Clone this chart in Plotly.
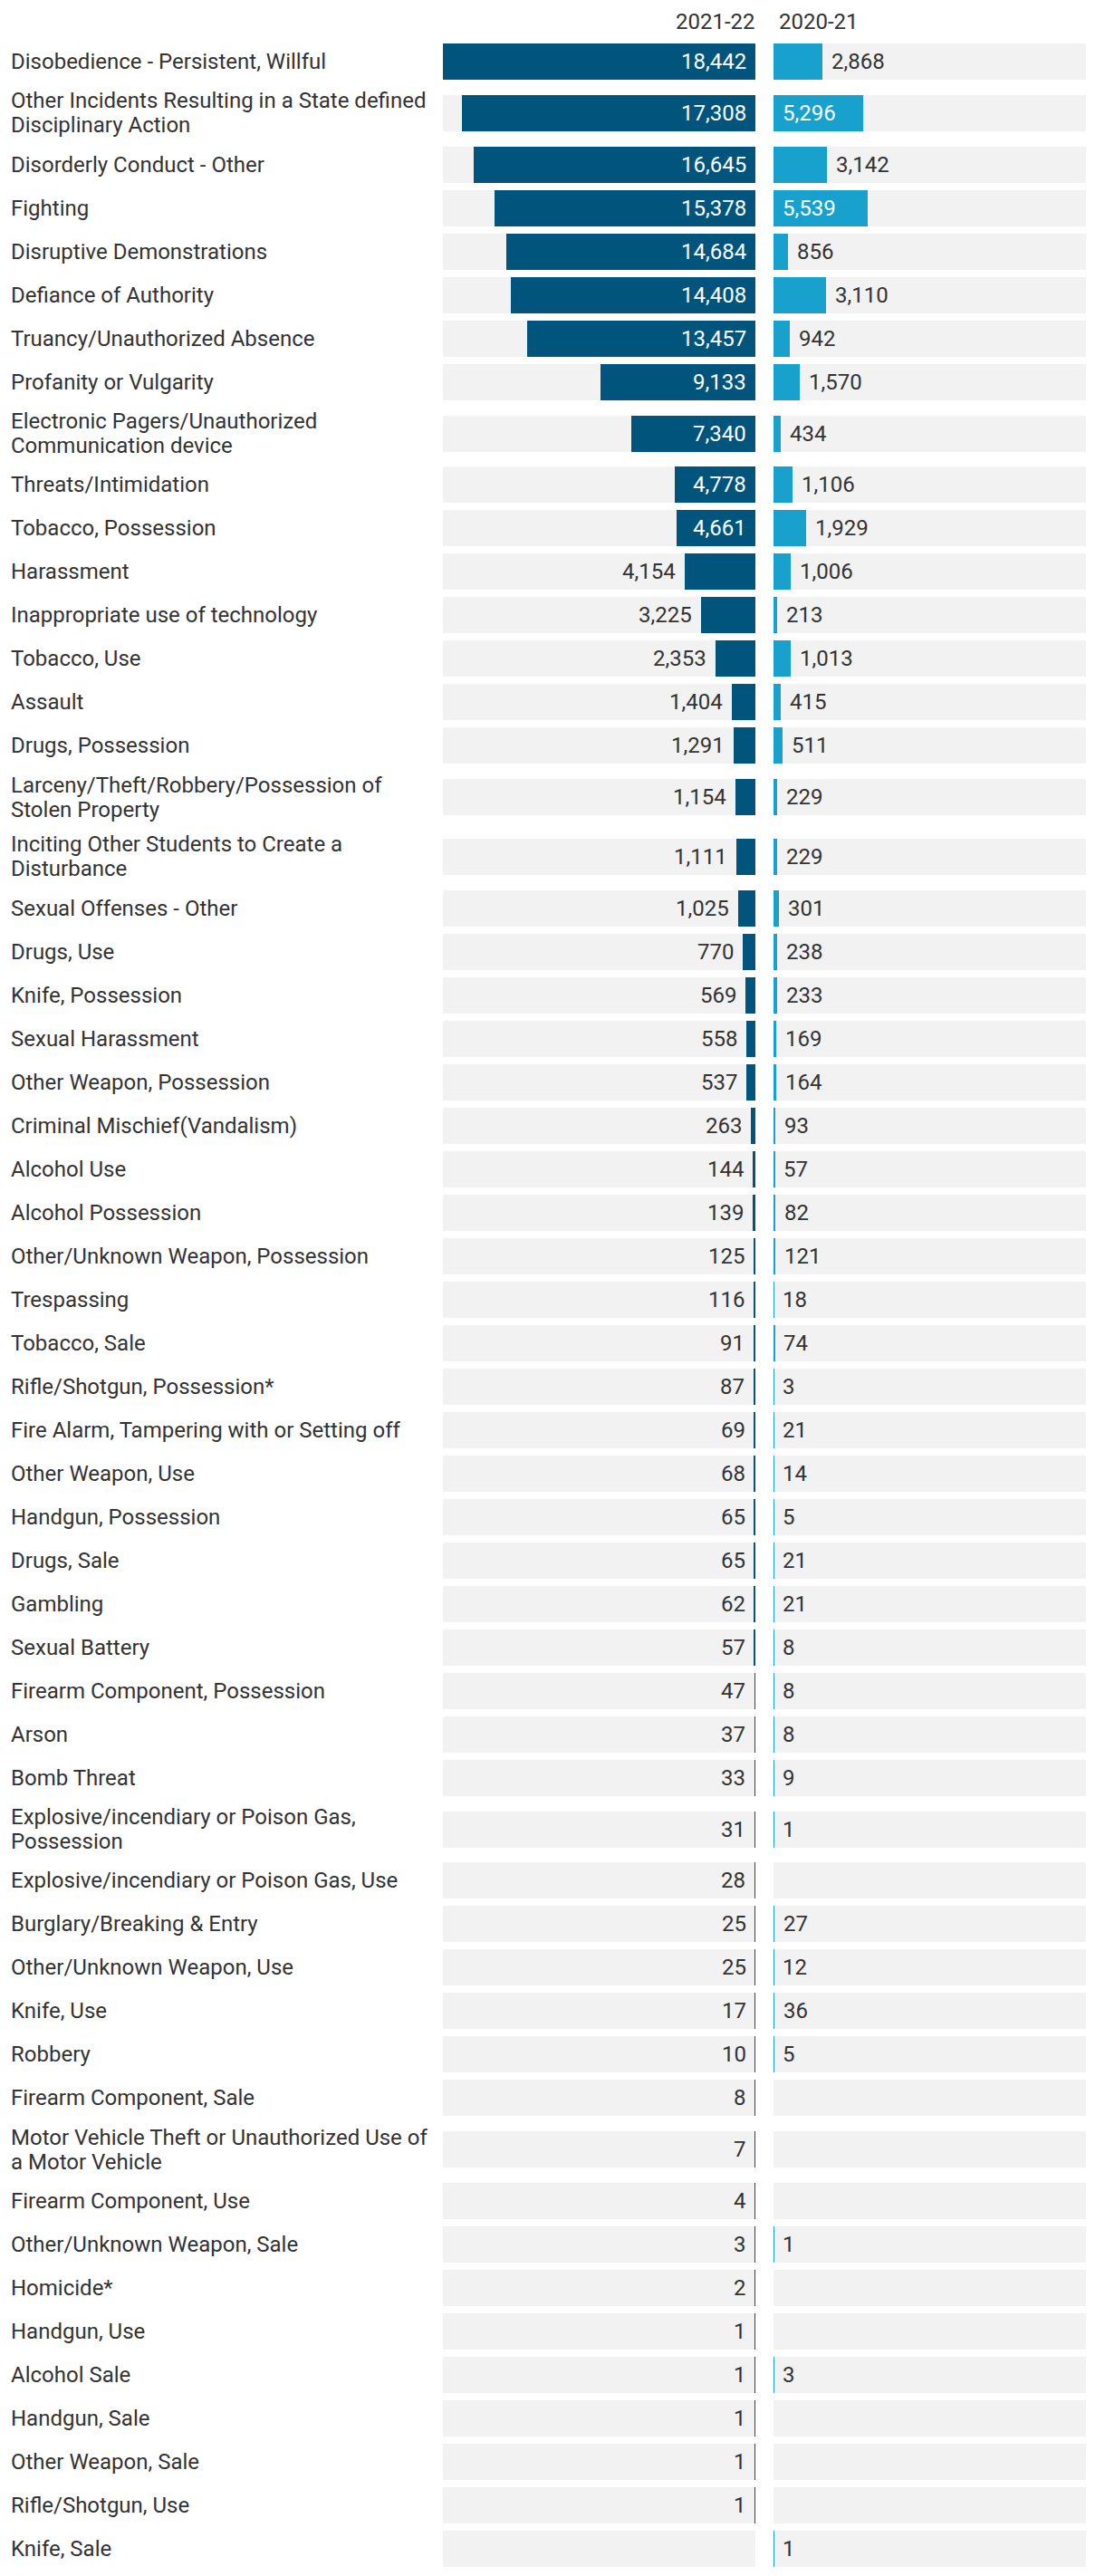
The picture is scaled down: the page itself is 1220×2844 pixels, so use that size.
import plotly.graph_objects as go

# ---------------- data ----------------
categories = [
    "Disobedience - Persistent, Willful",
    "Other Incidents Resulting in a State defined<br>Disciplinary Action",
    "Disorderly Conduct - Other",
    "Fighting",
    "Disruptive Demonstrations",
    "Defiance of Authority",
    "Truancy/Unauthorized Absence",
    "Profanity or Vulgarity",
    "Electronic Pagers/Unauthorized<br>Communication device",
    "Threats/Intimidation",
    "Tobacco, Possession",
    "Harassment",
    "Inappropriate use of technology",
    "Tobacco, Use",
    "Assault",
    "Drugs, Possession",
    "Larceny/Theft/Robbery/Possession of<br>Stolen Property",
    "Inciting Other Students to Create a<br>Disturbance",
    "Sexual Offenses - Other",
    "Drugs, Use",
    "Knife, Possession",
    "Sexual Harassment",
    "Other Weapon, Possession",
    "Criminal Mischief(Vandalism)",
    "Alcohol Use",
    "Alcohol Possession",
    "Other/Unknown Weapon, Possession",
    "Trespassing",
    "Tobacco, Sale",
    "Rifle/Shotgun, Possession*",
    "Fire Alarm, Tampering with or Setting off",
    "Other Weapon, Use",
    "Handgun, Possession",
    "Drugs, Sale",
    "Gambling",
    "Sexual Battery",
    "Firearm Component, Possession",
    "Arson",
    "Bomb Threat",
    "Explosive/incendiary or Poison Gas,<br>Possession",
    "Explosive/incendiary or Poison Gas, Use",
    "Burglary/Breaking & Entry",
    "Other/Unknown Weapon, Use",
    "Knife, Use",
    "Robbery",
    "Firearm Component, Sale",
    "Motor Vehicle Theft or Unauthorized Use of<br>a Motor Vehicle",
    "Firearm Component, Use",
    "Other/Unknown Weapon, Sale",
    "Homicide*",
    "Handgun, Use",
    "Alcohol Sale",
    "Handgun, Sale",
    "Other Weapon, Sale",
    "Rifle/Shotgun, Use",
    "Knife, Sale",
]

values_2021_22 = [
    18442, 17308, 16645, 15378, 14684, 14408, 13457, 9133, 7340, 4778,
    4661, 4154, 3225, 2353, 1404, 1291, 1154, 1111, 1025, 770,
    569, 558, 537, 263, 144, 139, 125, 116, 91, 87,
    69, 68, 65, 65, 62, 57, 47, 37, 33, 31,
    28, 25, 25, 17, 10, 8, 7, 4, 3, 2,
    1, 1, 1, 1, 1, None,
]

values_2020_21 = [
    2868, 5296, 3142, 5539, 856, 3110, 942, 1570, 434, 1106,
    1929, 1006, 213, 1013, 415, 511, 229, 229, 301, 238,
    233, 169, 164, 93, 57, 82, 121, 18, 74, 3,
    21, 14, 5, 21, 21, 8, 8, 8, 9, 1,
    None, 27, 12, 36, 5, None, None, None, 1, None,
    None, 3, None, None, None, 1,
]

series_names = ["2021-22", "2020-21"]

# ---------------- style ----------------
W, H = 1220, 2844
FONT = "Roboto"
FS = 24
DARK = "#01547b"
LIGHT = "#18a1cd"
GREY = "#f2f2f2"
TEXT = "#333333"

FIRST_TOP = 48
BAR_H = 40
ROW_GAP = 8
EXTRA_PER_LINE = 17.67
LINE_H = 27
PAD = 10

L_DOM = (489, 834)
R_DOM = (854, 1199)
PANEL_PX = L_DOM[1] - L_DOM[0]

# row centres derived from label line counts
centers = []
top = FIRST_TOP
for c in categories:
    n_lines = c.count("<br>") + 1
    extra = (n_lines - 1) * EXTRA_PER_LINE
    top += extra / 2
    centers.append(top + BAR_H / 2)
    top += BAR_H + ROW_GAP + extra / 2

vmax = max(v for v in values_2021_22 if v is not None)

fig = go.Figure()

# background rows
for xa in ("x", "x2"):
    fig.add_trace(go.Bar(
        y=centers, x=[vmax] * len(categories), orientation="h",
        width=BAR_H, marker=dict(color=GREY, line=dict(width=0)),
        xaxis=xa, yaxis="y", hoverinfo="skip", showlegend=False,
    ))

fig.add_trace(go.Bar(
    y=centers, x=values_2021_22, orientation="h", width=BAR_H,
    marker=dict(color=DARK, line=dict(width=0)), name=series_names[0],
    xaxis="x", yaxis="y", showlegend=False,
))
fig.add_trace(go.Bar(
    y=centers, x=values_2020_21, orientation="h", width=BAR_H,
    marker=dict(color=LIGHT, line=dict(width=0)), name=series_names[1],
    xaxis="x2", yaxis="y", showlegend=False,
))


def text_width(s):
    w = 0.0
    for ch in s:
        w += 0.2 if ch == "," else 0.5615
    return w * FS


annotations = []

# category labels
for c, yc in zip(categories, centers):
    lines = c.split("<br>")
    n = len(lines)
    for i, ln in enumerate(lines):
        yy = yc + (i - (n - 1) / 2) * LINE_H
        annotations.append(dict(
            text=ln, xref="paper", yref="y", x=12 / W, y=yy,
            xanchor="left", yanchor="middle", showarrow=False,
            font=dict(family=FONT, size=FS, color=TEXT),
            borderpad=0, borderwidth=0,
        ))

# value labels
for vals, xa, side in ((values_2021_22, "x", "left"), (values_2020_21, "x2", "right")):
    for v, yc in zip(vals, centers):
        if v is None:
            continue
        label = f"{v:,}"
        bar_px = v / vmax * PANEL_PX
        inside = bar_px >= text_width(label) + 2 * PAD
        xpos = 0 if inside else v
        annotations.append(dict(
            text=label, xref=xa, yref="y", x=xpos, y=yc,
            xanchor="right" if side == "left" else "left",
            xshift=-PAD if side == "left" else PAD,
            yanchor="middle", showarrow=False,
            font=dict(family=FONT, size=FS, color="#ffffff" if inside else TEXT),
            borderpad=0, borderwidth=0,
        ))

# column headers
annotations.append(dict(
    text=series_names[0], xref="paper", yref="y", x=L_DOM[1] / W, y=24,
    xanchor="right", yanchor="middle", showarrow=False,
    font=dict(family=FONT, size=FS, color=TEXT), borderpad=0, borderwidth=0,
))
annotations.append(dict(
    text=series_names[1], xref="paper", yref="y", x=860 / W, y=24,
    xanchor="left", yanchor="middle", showarrow=False,
    font=dict(family=FONT, size=FS, color=TEXT), borderpad=0, borderwidth=0,
))

fig.update_layout(
    width=W, height=H,
    margin=dict(l=0, r=0, t=0, b=0, pad=0),
    paper_bgcolor="white", plot_bgcolor="white",
    barmode="overlay", bargap=0,
    font=dict(family=FONT, size=FS, color=TEXT),
    xaxis=dict(domain=[L_DOM[0] / W, L_DOM[1] / W], range=[vmax, 0],
               visible=False, fixedrange=True),
    xaxis2=dict(domain=[R_DOM[0] / W, R_DOM[1] / W], range=[0, vmax],
                visible=False, fixedrange=True),
    yaxis=dict(domain=[0, 1], range=[H, 0], visible=False, fixedrange=True),
    annotations=annotations,
    showlegend=False,
)

fig.write_html("out.html", config={"displayModeBar": False},
               post_script="document.body.style.margin='0';")
